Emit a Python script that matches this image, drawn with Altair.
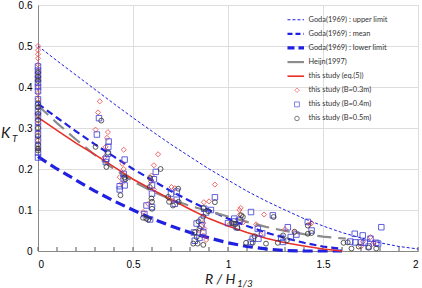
import altair as alt
import pandas as pd

# ---- design curves (R/H1/3 -> K_T) ----
goda_up_x = [0.0, 0.1, 0.2, 0.3, 0.4, 0.5, 0.6, 0.7, 0.8, 0.9, 1.0,
             1.1, 1.2, 1.3, 1.4, 1.5, 1.6, 1.7, 1.8, 1.9, 2.0]
goda_up_y = [0.500, 0.464, 0.429, 0.394, 0.359, 0.325, 0.292, 0.260, 0.230, 0.200, 0.173,
             0.146, 0.122, 0.100, 0.079, 0.061, 0.045, 0.032, 0.020, 0.011, 0.005]

goda_mean_x = [0.0, 0.1, 0.2, 0.3, 0.4, 0.5, 0.6, 0.7, 0.8, 0.9, 1.0,
               1.1, 1.2, 1.3, 1.4, 1.5, 1.6]
goda_mean_y = [0.359, 0.325, 0.292, 0.260, 0.230, 0.200, 0.173, 0.146, 0.122, 0.100, 0.079,
               0.061, 0.045, 0.032, 0.020, 0.011, 0.005]

goda_low_x = [0.0, 0.1, 0.2, 0.3, 0.4, 0.5, 0.6, 0.7, 0.8, 0.9, 1.0,
              1.1, 1.2, 1.3, 1.4, 1.5, 1.6]
goda_low_y = [0.230, 0.200, 0.173, 0.146, 0.122, 0.100, 0.079, 0.061, 0.045, 0.032, 0.020,
              0.011, 0.005, 0.001, 0.0, 0.0, 0.0]

heijn_x = [0.0, 0.1, 0.2, 0.3, 0.4, 0.5, 0.6, 0.7, 0.8, 0.9, 1.0,
           1.1, 1.2, 1.3, 1.4, 1.5, 1.62]
heijn_y = [0.355, 0.312, 0.272, 0.234, 0.200, 0.170, 0.146, 0.126, 0.110, 0.097, 0.084,
           0.071, 0.059, 0.049, 0.041, 0.035, 0.030]

eq5_x = [0.0, 0.1, 0.2, 0.3, 0.4, 0.5, 0.6, 0.7, 0.8, 0.9, 1.0,
         1.1, 1.2, 1.3, 1.4, 1.5, 1.6]
eq5_y = [0.326, 0.294, 0.263, 0.235, 0.205, 0.175, 0.150, 0.126, 0.102, 0.079, 0.061,
         0.045, 0.031, 0.020, 0.012, 0.005, 0.0]

# ---- measurements ----
b03_x = [0]*16 + [0.325, 0.316, 0.303, 0.368, 0.363, 0.356, 0.35,
                  0.451, 0.444, 0.451, 0.43, 0.44,
                  0.632, 0.61, 0.597, 0.594, 0.61, 0.58, 0.553,
                  0.703, 0.72, 0.69, 0.71,
                  0.87, 0.85, 0.87, 0.885, 0.875, 0.873, 0.90, 0.931,
                  1.067, 1.063, 1.01, 1.08, 1.06,
                  1.148, 1.17, 1.19,
                  1.30, 1.35, 1.43, 1.44,
                  1.75, 1.71, 1.76, 1.70, 1.77]
b03_y = [0.50, 0.49, 0.48, 0.47, 0.455, 0.44, 0.42, 0.40, 0.385, 0.37, 0.35, 0.33, 0.31, 0.29, 0.27, 0.25,
         0.365, 0.338, 0.296, 0.290, 0.276, 0.254, 0.229,
         0.247, 0.213, 0.200, 0.180, 0.165,
         0.236, 0.209, 0.184, 0.170, 0.150, 0.115, 0.095,
         0.156, 0.153, 0.128, 0.122,
         0.068, 0.050, 0.038, 0.027, 0.055, 0.119, 0.121, 0.162,
         0.105, 0.089, 0.066, 0.070, 0.100,
         0.065, 0.040, 0.089,
         0.053, 0.045, 0.065, 0.068,
         0.034, 0.023, 0.017, 0.011, 0.021]

b04_x = [0]*18 + [0.321, 0.31, 0.372, 0.37, 0.368, 0.36, 0.357,
                  0.456, 0.451, 0.451, 0.43, 0.43, 0.456,
                  0.62, 0.61, 0.60, 0.60, 0.571, 0.60, 0.56, 0.59,
                  0.73, 0.70, 0.73, 0.72,
                  0.835, 0.86, 0.82, 0.87, 0.85, 0.825, 0.861, 0.931, 0.875, 0.885, 0.91,
                  1.063, 1.03, 1.046, 1.121, 1.033, 1.0,
                  1.157, 1.13, 1.12, 1.16, 1.18, 1.236,
                  1.315, 1.28, 1.29, 1.33, 1.36,
                  1.42, 1.44,
                  1.807, 1.667, 1.709, 1.644, 1.67, 1.70, 1.72, 1.78, 1.74, 1.79, 1.75]
b04_y = [0.45, 0.44, 0.43, 0.42, 0.41, 0.40, 0.39, 0.37, 0.355, 0.34, 0.33, 0.315, 0.30, 0.285, 0.27, 0.255, 0.24, 0.228,
         0.324, 0.284, 0.267, 0.254, 0.237, 0.225, 0.217,
         0.223, 0.188, 0.177, 0.158, 0.150, 0.160,
         0.193, 0.175, 0.160, 0.140, 0.111, 0.107, 0.090, 0.077,
         0.145, 0.140, 0.125, 0.115,
         0.067, 0.062, 0.045, 0.046, 0.032, 0.025, 0.076, 0.131, 0.103, 0.094, 0.100,
         0.076, 0.072, 0.058, 0.095, 0.079, 0.068,
         0.054, 0.030, 0.022, 0.030, 0.043, 0.087,
         0.058, 0.032, 0.022, 0.034, 0.040,
         0.071, 0.050,
         0.058, 0.042, 0.038, 0.023, 0.021, 0.021, 0.020, 0.020, 0.011, 0.018, 0.030]

b05_x = [0]*12 + [0.333, 0.303, 0.368, 0.36,
                  0.456, 0.46, 0.434,
                  0.645, 0.59, 0.588, 0.597, 0.60, 0.60, 0.553, 0.58, 0.57,
                  0.738, 0.685, 0.69, 0.71, 0.74,
                  0.845, 0.826, 0.85, 0.835, 0.817, 0.84, 0.87, 0.87, 0.931, 0.87, 0.896,
                  1.07, 1.02, 1.04, 1.05, 1.078, 1.03,
                  1.14, 1.095, 1.13, 1.20, 1.24,
                  1.29, 1.262, 1.31, 1.35,
                  1.42, 1.42, 1.44,
                  1.608, 1.63, 1.688, 1.74, 1.78, 1.65]
b05_y = [0.435, 0.425, 0.415, 0.36, 0.35, 0.335, 0.32, 0.30, 0.28, 0.26, 0.245, 0.25,
         0.318, 0.254, 0.240, 0.205,
         0.180, 0.175, 0.136,
         0.200, 0.178, 0.156, 0.128, 0.120, 0.103, 0.081, 0.076, 0.079,
         0.152, 0.132, 0.120, 0.111, 0.120,
         0.072, 0.046, 0.055, 0.034, 0.018, 0.018, 0.015, 0.084, 0.119, 0.105, 0.097,
         0.087, 0.068, 0.066, 0.056, 0.083, 0.066,
         0.036, 0.020, 0.020, 0.018, 0.083,
         0.038, 0.020, 0.026, 0.047,
         0.062, 0.042, 0.044,
         0.020, 0.021, 0.011, 0.008, 0.006, 0.006]

legend_labels = ["Goda(1969) : upper limit", "Goda(1969) : mean", "Goda(1969) : lower limit",
                 "Heijn(1997)", "this study (eq.(5))", "this study (B=0.3m)",
                 "this study (B=0.4m)", "this study (B=0.5m)"]

x_ticks = [0, 0.5, 1, 1.5, 2]
x_minor = [round(i * 0.1, 1) for i in range(0, 21)]
y_ticks = [0, 0.1, 0.2, 0.3, 0.4, 0.5, 0.6]

BLUE = "#2020e0"
RED = "#e8302a"
GRAY = "#8c8c8c"
PT_RED = "#ee4a4a"
PT_BLUE = "#3c3cd6"
PT_BLACK = "#333333"
FONT = "Lato"

W, H = 380, 246
xs = alt.Scale(domain=[0, 2], nice=False)
ys = alt.Scale(domain=[0, 0.6], nice=False)

X = alt.X("x:Q", scale=xs,
          axis=alt.Axis(values=x_ticks, format="~g", title=None, grid=True, ticks=False,
                        labelPadding=8))
Y = alt.Y("y:Q", scale=ys,
          axis=alt.Axis(values=y_ticks, format="~g", title=None, grid=True, ticks=False,
                        labelPadding=6))


def frame(xv, yv):
    return pd.DataFrame({"x": xv, "y": yv})


def curve(xv, yv, color, width, dash=None):
    kw = dict(color=color, strokeWidth=width)
    if dash:
        kw["strokeDash"] = dash
    return alt.Chart(frame(xv, yv)).mark_line(**kw).encode(x=X, y=Y)


def points(xv, yv, shape, color, size):
    return alt.Chart(frame(xv, yv)).mark_point(
        shape=shape, filled=False, color=color, size=size, strokeWidth=0.9, opacity=0.9
    ).encode(x=X, y=Y)


# minor ticks along the x axis
minor = alt.Chart(pd.DataFrame({"x": x_minor})).mark_rule(
    color="#555555", strokeWidth=1
).encode(x=alt.X("x:Q", scale=xs), y=alt.value(H), y2=alt.value(H - 4))

upper = curve(goda_up_x, goda_up_y, BLUE, 1, [3, 2])
mean = curve(goda_mean_x, goda_mean_y, BLUE, 2.2, [7, 4])
lower = curve(goda_low_x, goda_low_y, BLUE, 3.2, [10, 5])
heijn = curve(heijn_x, heijn_y, GRAY, 2.2, [14, 7])
eq5 = curve(eq5_x, eq5_y, RED, 1.6)

p03 = points(b03_x, b03_y, "diamond", PT_RED, 26)
p04 = points(b04_x, b04_y, "square", PT_BLUE, 30)
p05 = points(b05_x, b05_y, "circle", PT_BLACK, 24)

# legend block in the upper right corner
leg = pd.DataFrame({"label": legend_labels, "i": list(range(len(legend_labels)))})
leg["y"] = 0.564 - leg["i"] * 0.0344
leg["x0"] = 1.313
leg["x1"] = 1.400
leg["xm"] = 1.363
leg["xt"] = 1.424

LX = alt.X("x0:Q", scale=xs)
LX2 = alt.X2("x1:Q")
LY = alt.Y("y:Q", scale=ys)

leg_styles = [
    (BLUE, 1, [3, 2]),
    (BLUE, 2.2, [5, 3]),
    (BLUE, 3.2, [7, 4]),
    (GRAY, 2.2, None),
    (RED, 1.6, None),
]
leg_layers = []
for i, (c, w, d) in enumerate(leg_styles):
    kw = dict(color=c, strokeWidth=w)
    if d:
        kw["strokeDash"] = d
    leg_layers.append(
        alt.Chart(leg[leg["i"] == i]).mark_rule(**kw).encode(x=LX, x2=LX2, y=LY)
    )
for i, (shape, c, s) in zip([5, 6, 7], [("diamond", PT_RED, 20), ("square", PT_BLUE, 24),
                                        ("circle", PT_BLACK, 20)]):
    leg_layers.append(
        alt.Chart(leg[leg["i"] == i]).mark_point(
            shape=shape, filled=False, color=c, size=s, strokeWidth=0.9
        ).encode(x=alt.X("xm:Q", scale=xs), y=LY)
    )
leg_text = alt.Chart(leg).mark_text(
    align="left", baseline="middle", font=FONT, fontSize=7.4, color="#333333"
).encode(x=alt.X("xt:Q", scale=xs), y=LY, text="label:N")

# axis titles with subscripts
def label(txt, x, y, size, baseline="alphabetic"):
    return alt.Chart(pd.DataFrame({"t": [txt]})).mark_text(
        align="left", baseline=baseline, font=FONT, fontStyle="italic",
        fontSize=size, color="#222222"
    ).encode(x=alt.value(x), y=alt.value(y), text="t:N")

kt = label("K", -37, 128 + 5, 15) + label("T", -26, 128 + 9, 10)
rh = label("R / H", 167, 33 + H, 14) + label("1/3", 199, 36 + H, 10)

chart = alt.layer(
    minor, upper, mean, lower, heijn, eq5, p03, p04, p05,
    *leg_layers, leg_text, kt, rh
).properties(
    width=W, height=H,
    autosize=alt.AutoSizeParams(type="none"),
    padding={"left": 38, "top": 5, "right": 4, "bottom": 37},
).configure_view(
    stroke="#555555", strokeWidth=1
).configure_axis(
    labelFont=FONT, labelFontSize=10, labelColor="#555555",
    domainColor="#555555", domainWidth=1.2,
    gridColor="#cfcfcf", gridDash=[2, 2], gridWidth=0.8
).configure(background="white")

chart.save("out.html", embed_options={"renderer": "svg", "actions": False})
